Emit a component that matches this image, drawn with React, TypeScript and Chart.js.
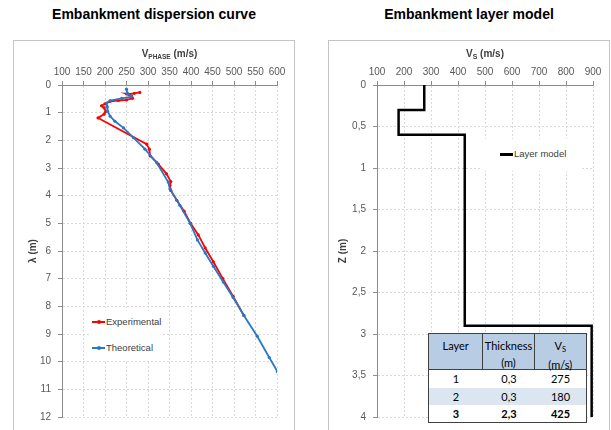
import React, { useEffect, useRef } from 'react';
import { Chart, registerables } from 'chart.js';

Chart.register(...registerables);

// ---------- Data ----------
// Embankment dispersion curve
const expVphase = [281, 268, 255, 250, 262, 264, 250, 231, 212, 200, 192, 198, 202, 198, 184, 297, 303, 305, 324, 343, 353, 351, 353, 367, 384, 399, 417, 433, 452, 474, 498, 523];
const expLambda = [0.27, 0.3, 0.33, 0.32, 0.4, 0.48, 0.54, 0.56, 0.59, 0.68, 0.75, 0.83, 0.95, 1.05, 1.19, 2.14, 2.32, 2.56, 2.86, 3.21, 3.49, 3.63, 3.81, 4.17, 4.56, 5.0, 5.42, 5.89, 6.39, 7.0, 7.64, 8.33];
const theoVphase = [250, 252, 262, 239, 212, 204, 205, 206, 212, 223, 243, 266, 293, 320, 347, 351, 374, 398, 415, 433, 452, 475, 498, 523, 554, 582, 601];
const theoLambda = [0.15, 0.3, 0.42, 0.48, 0.56, 0.65, 0.78, 0.95, 1.13, 1.31, 1.55, 1.9, 2.32, 2.8, 3.51, 3.75, 4.35, 5.0, 5.6, 6.07, 6.55, 7.12, 7.68, 8.33, 9.08, 9.85, 10.36];

// Embankment layer model
const layerNames = ['1', '2', '3'];
const layerThickness = [0.3, 0.3, 2.3];
const layerVs = [275, 180, 425];
const halfSpaceVs = 895;
const modelMaxDepth = 4;

// Axis ranges / ticks
const vPhaseMin = 100, vPhaseMax = 600, vPhaseStep = 50;
const lambdaMin = 0, lambdaMax = 12, lambdaStep = 1;
const vsMin = 100, vsMax = 900, vsStep = 100;
const zMin = 0, zMax = 4, zStep = 0.5;

const FONT = "'Liberation Sans', Arial, sans-serif";
const TICK_COLOR = '#595959';
const AXIS_COLOR = '#8c8c8c';
const GRID_COLOR = '#d9d9d9';
const RED = '#ff0000';
const BLUE = '#2878c8';

function buildStep() {
  const pts: { x: number; y: number }[] = [];
  let z = 0;
  for (let i = 0; i < layerVs.length; i++) {
    pts.push({ x: layerVs[i], y: z });
    z += layerThickness[i];
    pts.push({ x: layerVs[i], y: z });
  }
  pts.push({ x: halfSpaceVs, y: z });
  pts.push({ x: halfSpaceVs, y: modelMaxDepth });
  return pts;
}

function commonScales(xMin: number, xMax: number, xStep: number, yMin: number, yMax: number, yStep: number, yTitle: string, yTitlePad: number, yFmt?: (v: number) => string) {
  const grid = { color: GRID_COLOR, tickColor: AXIS_COLOR, tickLength: 4, tickBorderDash: [] as number[], lineWidth: 1 };
  const border = { display: true, color: AXIS_COLOR, width: 1, dash: [2, 2] };
  return {
    x: {
      type: 'linear' as const,
      position: 'top' as const,
      min: xMin,
      max: xMax,
      ticks: { stepSize: xStep, color: TICK_COLOR, font: { size: 10, family: FONT }, padding: 3, maxRotation: 0, autoSkip: false },
      grid,
      border,
      afterFit: (s: any) => { s.height = 45; },
    },
    y: {
      type: 'linear' as const,
      reverse: true,
      min: yMin,
      max: yMax,
      ticks: {
        stepSize: yStep, color: TICK_COLOR, font: { size: 10, family: FONT }, padding: 7, autoSkip: false,
        callback: (v: any) => (yFmt ? yFmt(Number(v)) : String(v)),
      },
      grid,
      border,
      title: { display: true, text: yTitle, color: '#404040', font: { size: 10, weight: 'bold' as const, family: FONT }, padding: { top: yTitlePad, bottom: 0 } },
      afterFit: (s: any) => { s.width = 49; },
    },
  };
}

function DispersionChart() {
  const ref = useRef<HTMLCanvasElement | null>(null);
  useEffect(() => {
    if (!ref.current) return;
    const chart = new Chart(ref.current, {
      type: 'scatter',
      data: {
        datasets: [
          {
            label: 'Experimental',
            data: expVphase.map((v, i) => ({ x: v, y: expLambda[i] })),
            showLine: true,
            borderColor: RED,
            backgroundColor: RED,
            borderWidth: 1.8,
            pointRadius: 1.6,
            pointBorderWidth: 0,
            order: 2,
          },
          {
            label: 'Theoretical',
            data: theoVphase.map((v, i) => ({ x: v, y: theoLambda[i] })),
            showLine: true,
            borderColor: BLUE,
            backgroundColor: BLUE,
            borderWidth: 1.8,
            pointRadius: 1.6,
            pointBorderWidth: 0,
            order: 1,
          },
        ],
      },
      options: {
        responsive: false,
        animation: false,
        layout: { padding: { left: 0, top: 0, right: 18, bottom: 9 } },
        plugins: { legend: { display: false }, tooltip: { enabled: false } },
        scales: commonScales(vPhaseMin, vPhaseMax, vPhaseStep, lambdaMin, lambdaMax, lambdaStep, 'λ (m)', 14) as any,
      },
    });
    return () => chart.destroy();
  }, []);
  return <canvas ref={ref} width={282} height={390} style={{ position: 'absolute', left: 13, top: 40, width: 282, height: 390 }} />;
}

function LayerChart() {
  const ref = useRef<HTMLCanvasElement | null>(null);
  useEffect(() => {
    if (!ref.current) return;
    const chart = new Chart(ref.current, {
      type: 'scatter',
      data: {
        datasets: [
          {
            label: 'Layer model',
            data: buildStep(),
            showLine: true,
            borderColor: '#000000',
            backgroundColor: '#000000',
            borderWidth: 2.5,
            pointRadius: 0,
          },
        ],
      },
      options: {
        responsive: false,
        animation: false,
        layout: { padding: { left: 0, top: 0, right: 17, bottom: 9 } },
        plugins: { legend: { display: false }, tooltip: { enabled: false } },
        scales: commonScales(vsMin, vsMax, vsStep, zMin, zMax, zStep, 'Z (m)', 9, (v) => String(v).replace('.', ',')) as any,
      },
    });
    return () => chart.destroy();
  }, []);
  return <canvas ref={ref} width={282} height={390} style={{ position: 'absolute', left: 328, top: 40, width: 282, height: 390 }} />;
}

const abs = (s: React.CSSProperties): React.CSSProperties => ({ position: 'absolute', ...s });

function LegendItem({ color, label, top, left, marker, thick }: { color: string; label: string; top: number; left: number; marker?: boolean; thick?: number }) {
  const th = thick || 2;
  return (
    <div style={abs({ left, top, height: 12, whiteSpace: 'nowrap' })}>
      <div style={abs({ left: 0, top: 6 - th / 2, width: 13, height: th, background: color })} />
      {marker && <div style={abs({ left: 4.5, top: 4, width: 4, height: 4, borderRadius: 2, background: color })} />}
      <div style={abs({ left: 14, top: 0, lineHeight: '12px', fontSize: 9.5, fontFamily: FONT, color: '#404040' })}>{label}</div>
    </div>
  );
}

function LayerTable() {
  const cols = [55, 52, 52];
  const border = '1px solid #404040';
  const headCell = (i: number): React.CSSProperties => ({
    width: cols[i], boxSizing: 'border-box', textAlign: 'center', borderRight: i < 2 ? border : 'none',
    paddingTop: 3, lineHeight: '17px',
  });
  const rowBg = ['#ffffff', '#dce6f1', '#ffffff'];
  const rowH = [18, 17, 17];
  return (
    <div style={abs({ left: 428, top: 333, width: 159, background: '#fff', border, boxSizing: 'border-box', fontFamily: "Lato, 'Noto Sans', sans-serif", fontSize: 11, color: '#000' })}>
      <div style={{ display: 'flex', height: 36, background: '#b8cce4', borderBottom: border, boxSizing: 'border-box' }}>
        <div style={headCell(0)}>Layer</div>
        <div style={headCell(1)}>Thickness<br />(m)</div>
        <div style={headCell(2)}>V<span style={{ fontSize: 7.5, position: 'relative', top: 2 }}>S</span><br />(m/s)</div>
      </div>
      {layerNames.map((n, r) => (
        <div key={n} style={{ display: 'flex', height: rowH[r], lineHeight: rowH[r] + 'px', background: rowBg[r], fontWeight: r === 2 ? 'bold' : 'normal' }}>
          <div style={{ width: cols[0] - 1, textAlign: 'center' }}>{n}</div>
          <div style={{ width: cols[1], textAlign: 'center' }}>{String(layerThickness[r]).replace('.', ',')}</div>
          <div style={{ width: cols[2] - 1, textAlign: 'center' }}>{layerVs[r]}</div>
        </div>
      ))}
    </div>
  );
}

export default function App() {
  return (
    <div style={{ position: 'fixed', left: 0, top: 0, width: 611, height: 430, overflow: 'hidden', background: '#fff' }}>
      {/* chart boxes */}
      <div style={abs({ left: 13, top: 40, width: 282, height: 420, border: '1px solid #c4c4c4', boxSizing: 'border-box' })} />
      <div style={abs({ left: 328, top: 40, width: 282, height: 420, border: '1px solid #c4c4c4', boxSizing: 'border-box' })} />

      {/* titles */}
      <div style={abs({ left: 13, top: 6, width: 282, textAlign: 'center', fontFamily: FONT, fontWeight: 'bold', fontSize: 14, lineHeight: '16px', color: '#000' })}>Embankment dispersion curve</div>
      <div style={abs({ left: 328, top: 6, width: 282, textAlign: 'center', fontFamily: FONT, fontWeight: 'bold', fontSize: 14, lineHeight: '16px', color: '#000' })}>Embankment layer model</div>

      <DispersionChart />
      <LayerChart />

      {/* x axis titles */}
      <div style={abs({ left: 62, top: 48, width: 215, textAlign: 'center', fontFamily: FONT, fontWeight: 'bold', fontSize: 10, lineHeight: '12px', color: '#404040' })}>
        V<span style={{ fontSize: 6.5, position: 'relative', top: 2 }}>PHASE</span> (m/s)
      </div>
      <div style={abs({ left: 377, top: 48, width: 216, textAlign: 'center', fontFamily: FONT, fontWeight: 'bold', fontSize: 10, lineHeight: '12px', color: '#404040' })}>
        V<span style={{ fontSize: 7, position: 'relative', top: 2 }}>S</span> (m/s)
      </div>

      {/* legends */}
      <div style={abs({ left: 89, top: 311, width: 74, height: 49, background: '#fff' })}>
        <LegendItem color={RED} label="Experimental" left={3} top={5} marker />
        <LegendItem color={BLUE} label="Theoretical" left={3} top={31} marker />
      </div>
      <div style={abs({ left: 482, top: 139, width: 98, height: 32, background: '#fff' })}>
        <LegendItem color="#000" label="Layer model" left={18} top={9} thick={3} />
      </div>

      <LayerTable />
    </div>
  );
}
